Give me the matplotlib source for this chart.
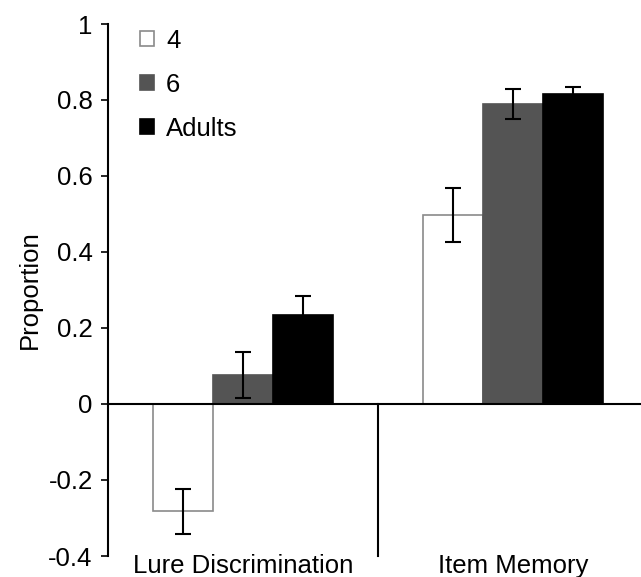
#!/usr/bin/env python3
import matplotlib
matplotlib.use("Agg")
import matplotlib.pyplot as plt
import numpy as np

plt.rcParams['font.family'] = ['Liberation Sans', 'DejaVu Sans']

# data
categories = ['Lure Discrimination', 'Item Memory']
groups = ['4', '6', 'Adults']
means = {
    '4': [-0.282, 0.497],
    '6': [0.077, 0.790],
    'Adults': [0.233, 0.815],
}
errors = {
    '4': [0.059, 0.072],
    '6': [0.061, 0.040],
    'Adults': [0.050, 0.020],
}

faces = {'4': 'white', '6': '#545454', 'Adults': 'black'}
edges = {'4': '#8a8a8a', '6': '#545454', 'Adults': 'black'}


def main():
    fig = plt.figure(figsize=(6.41, 5.77), dpi=100)
    ax = fig.add_axes([108 / 641, 1 - 556 / 577, 540 / 641, 532 / 577])

    x = np.arange(len(categories))
    width = 0.222
    for i, g in enumerate(groups):
        ax.bar(x + (i - 1) * width, means[g], width,
               color=faces[g], edgecolor=edges[g], linewidth=1.2,
               label=g, zorder=2)
        ax.errorbar(x + (i - 1) * width, means[g], yerr=errors[g],
                    fmt='none', ecolor='black', elinewidth=1.5,
                    capsize=6, capthick=1.5, zorder=3)

    # zero line and separator between categories
    ax.axhline(0, color='black', linewidth=1.5, zorder=4)
    ax.plot([0.5, 0.5], [0, -0.4], color='black', linewidth=1.5,
            clip_on=False, zorder=4)

    ax.set_xlim(-0.5, 1.5)
    ax.set_ylim(-0.4, 1)
    ax.set_yticks(np.arange(-0.4, 1.01, 0.2))
    ax.set_yticklabels(['-0.4', '-0.2', '0', '0.2', '0.4', '0.6', '0.8', '1'],
                       fontsize=18.5)
    ax.set_xticks([])
    # category names sit right at the bottom edge of the plot
    for xi, name in zip(x, categories):
        ax.text(xi, -0.445, name, ha='center', va='baseline',
                fontsize=18.5, clip_on=False)
    ax.tick_params(axis='y', direction='out', length=5, width=1.2, pad=6)

    for side in ['top', 'right', 'bottom']:
        ax.spines[side].set_visible(False)
    ax.spines['left'].set_linewidth(1.5)

    ax.set_ylabel('Proportion', fontsize=18.5, labelpad=5)

    ax.legend(loc='upper left', bbox_to_anchor=(0.017, 1.035),
              frameon=False, fontsize=18.5, handlelength=0.55,
              handleheight=0.55, handletextpad=0.45,
              labelspacing=0.78)

    fig.savefig('out.png', dpi=100)
    plt.close(fig)


if __name__ == "__main__":
    main()
